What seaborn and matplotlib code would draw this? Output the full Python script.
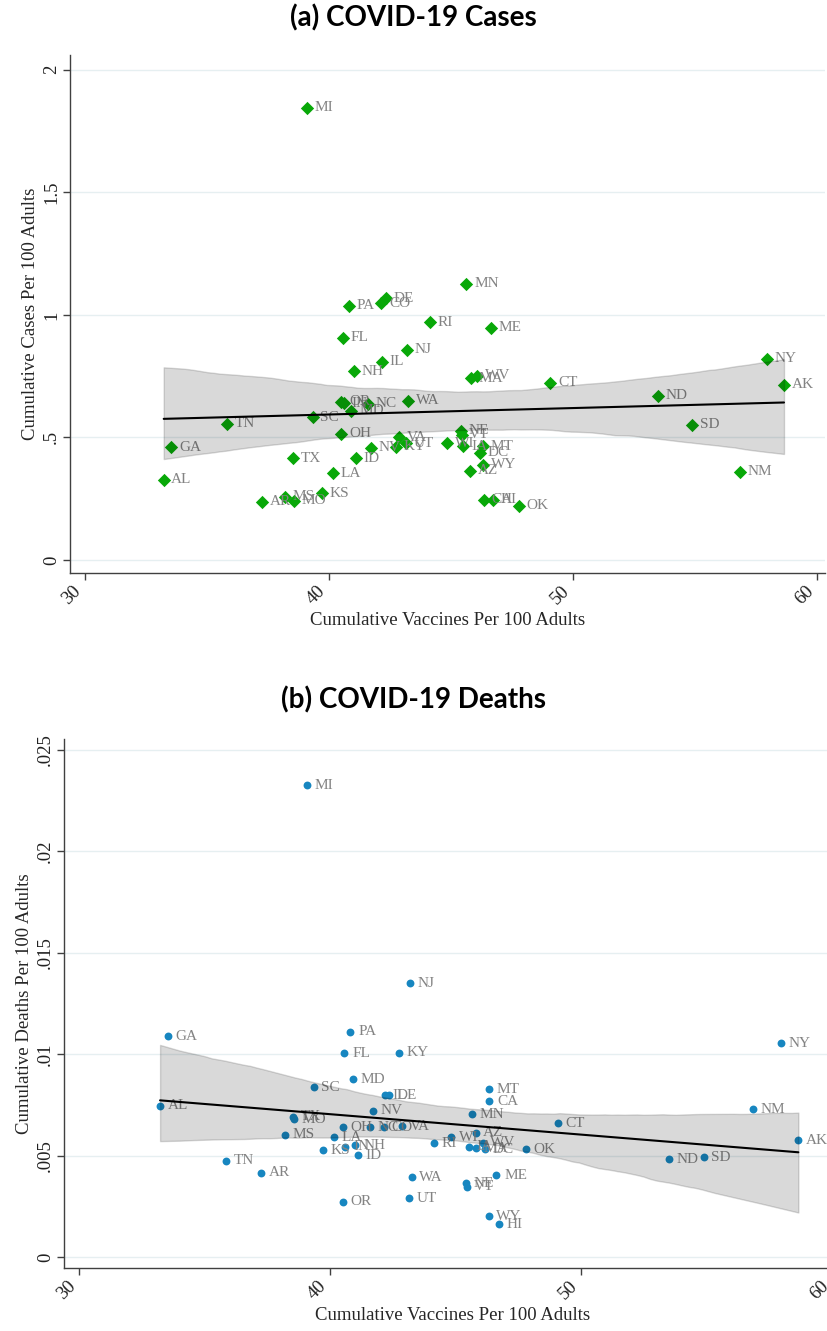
import matplotlib
matplotlib.use("Agg")
import matplotlib.pyplot as plt
import pandas as pd
import seaborn as sns

# state-level values
states = ["AL", "AK", "AZ", "AR", "CA", "CO", "CT", "DE", "DC", "FL", "GA", "HI",
          "ID", "IL", "IN", "IA", "KS", "KY", "LA", "ME", "MD", "MA", "MI", "MN",
          "MS", "MO", "MT", "NE", "NV", "NH", "NJ", "NM", "NY", "NC", "ND", "OH",
          "OK", "OR", "PA", "RI", "SC", "SD", "TN", "TX", "UT", "VT", "VA", "WA",
          "WV", "WI", "WY"]

vaccines = [33.24, 58.65, 45.80, 37.26, 46.35, 42.16, 49.08, 42.34, 46.18, 40.58, 33.55, 46.73,
            41.10, 42.18, 40.62, 45.52, 39.73, 42.74, 40.18, 46.63, 40.93, 45.81, 39.10, 45.64,
            38.20, 38.58, 46.32, 45.40, 41.72, 41.02, 43.20, 56.85, 57.95, 41.61, 53.49, 40.52,
            47.80, 40.52, 40.82, 44.16, 39.35, 54.88, 35.85, 38.54, 43.15, 45.44, 42.88, 43.25,
            46.08, 44.84, 46.32]

cases = [0.327, 0.714, 0.365, 0.238, 0.245, 1.048, 0.724, 1.068, 0.438, 0.907, 0.460, 0.245,
         0.415, 0.809, 0.640, 0.465, 0.272, 0.462, 0.354, 0.947, 0.609, 0.741, 1.845, 1.127,
         0.258, 0.241, 0.465, 0.528, 0.458, 0.769, 0.857, 0.359, 0.820, 0.637, 0.669, 0.514,
         0.222, 0.646, 1.038, 0.970, 0.582, 0.551, 0.555, 0.415, 0.476, 0.510, 0.501, 0.649,
         0.751, 0.476, 0.388]

deaths = [0.00745, 0.00577, 0.00613, 0.00416, 0.00769, 0.00640, 0.00659, 0.00799, 0.00531, 0.01004, 0.01090, 0.00161,
          0.00503, 0.00799, 0.00544, 0.00544, 0.00528, 0.01007, 0.00590, 0.00404, 0.00878, 0.00536, 0.02327, 0.00705,
          0.00602, 0.00680, 0.00827, 0.00363, 0.00721, 0.00552, 0.01351, 0.00730, 0.01055, 0.00640, 0.00483, 0.00640,
          0.00531, 0.00273, 0.01111, 0.00561, 0.00837, 0.00493, 0.00475, 0.00692, 0.00289, 0.00347, 0.00646, 0.00393,
          0.00564, 0.00590, 0.00202]

x_ticks = [30, 40, 50, 60]
cases_ticks = [0, 0.5, 1, 1.5, 2]
cases_labels = ["0", ".5", "1", "1.5", "2"]
deaths_ticks = [0, 0.005, 0.01, 0.015, 0.02, 0.025]
deaths_labels = ["0", ".005", ".01", ".015", ".02", ".025"]

df = pd.DataFrame({"state": states, "vaccines": vaccines, "cases": cases, "deaths": deaths})

sns.set_theme(style="white")
plt.rcParams["font.family"] = ["Liberation Serif", "DejaVu Serif"]

fig = plt.figure(figsize=(8.27, 13.31), dpi=100)
ax_a = fig.add_axes([0.0846, 0.5695, 0.913, 0.3892])
ax_b = fig.add_axes([0.0769, 0.0473, 0.9395, 0.3974])

label_col = "#838383"
grid_col = "#e6eff1"


def draw_panel(ax, ycol, color, marker, size, yticks, ylabels, ylim, ylabel):
    sns.scatterplot(data=df, x="vaccines", y=ycol, color=color, marker=marker,
                    s=size, linewidth=0, ax=ax, zorder=2, legend=False)
    for _, r in df.iterrows():
        ax.annotate(r["state"], (r["vaccines"], r[ycol]), xytext=(5.5, 0),
                    textcoords="offset points", va="center", ha="left",
                    fontsize=11, color=label_col, zorder=2)
    sns.regplot(data=df, x="vaccines", y=ycol, scatter=False, ci=95, seed=3,
                color="black", line_kws={"lw": 1.5, "zorder": 5}, ax=ax)
    # CI band drawn over the points, like the original
    band = ax.collections[-1]
    band.set_zorder(4)
    band.set_facecolor((0, 0, 0, 0.13))
    band.set_edgecolor((0, 0, 0, 0.12))
    band.set_linewidth(1)

    ax.set_xlim(29.4, 60.33)
    ax.set_ylim(*ylim)
    ax.set_xticks(x_ticks)
    ax.set_xticklabels([str(t) for t in x_ticks], rotation=45, ha="right",
                       fontsize=13.5)
    ax.set_yticks(yticks)
    ax.set_yticklabels(ylabels, rotation=90, va="center", fontsize=13.5)
    for y in yticks:
        ax.axhline(y, color=grid_col, lw=1, zorder=0)
    ax.set_xlabel("Cumulative Vaccines Per 100 Adults", fontsize=13.5, labelpad=3)
    ax.set_ylabel(ylabel, fontsize=13.5, labelpad=3)
    for side in ["top", "right"]:
        ax.spines[side].set_visible(False)
    for side in ["left", "bottom"]:
        ax.spines[side].set_color("#404040")
        ax.spines[side].set_linewidth(1)
    ax.tick_params(axis="both", direction="out", length=5, width=1,
                   color="#404040", labelcolor="#222222", pad=2,
                   bottom=True, left=True)


draw_panel(ax_a, "cases", "#08a808", "D", 46, cases_ticks, cases_labels,
           (-0.053, 2.06), "Cumulative Cases Per 100 Adults")
draw_panel(ax_b, "deaths", "#1786c0", "o", 32, deaths_ticks, deaths_labels,
           (-0.00054, 0.02554), "Cumulative Deaths Per 100 Adults")

fig.text(0.5, 1 - 18 / 1331, "(a) COVID-19 Cases", ha="center", va="center",
         fontsize=20, fontweight="bold", family=["Lato", "DejaVu Sans"], color="black")
fig.text(0.5, 1 - 700 / 1331, "(b) COVID-19 Deaths", ha="center", va="center",
         fontsize=20, fontweight="bold", family=["Lato", "DejaVu Sans"], color="black")

fig.savefig("out.png", dpi=100)
